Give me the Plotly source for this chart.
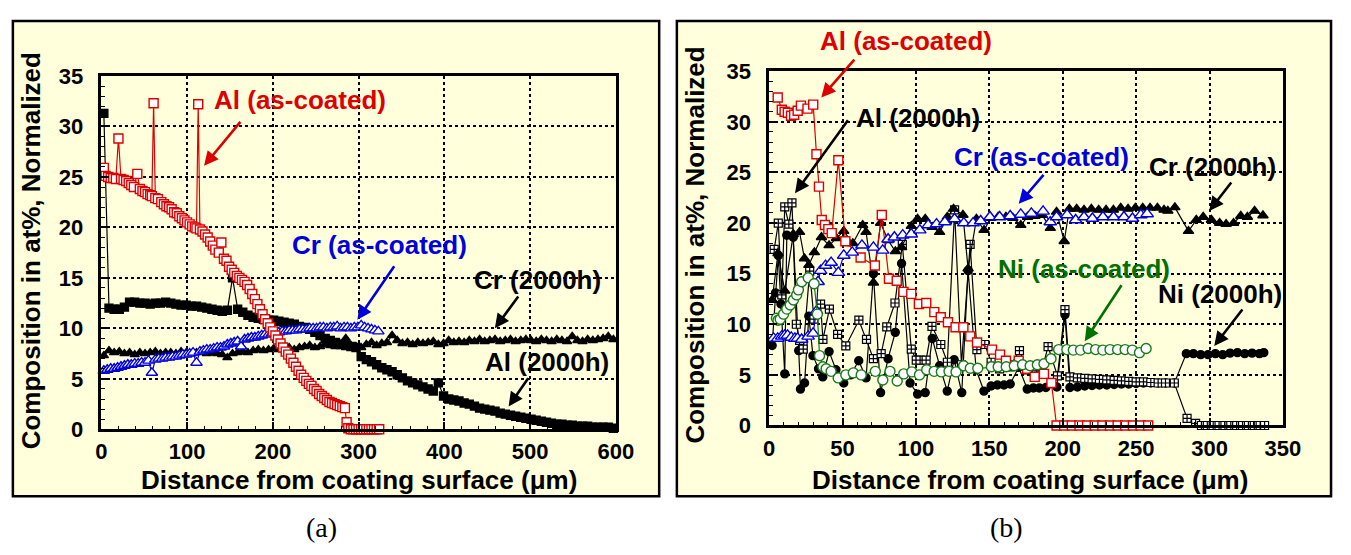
import plotly.graph_objects as go

# ---------------- Panel (a) data ----------------
a_al_ac_x = [3, 5, 8, 11, 14, 17, 20, 23, 26, 29, 32, 35, 38, 42, 45, 48, 51, 54, 57, 59,
             61, 63, 66, 70, 73, 76, 79, 82, 85, 88, 91, 94, 97, 100, 103, 106, 109, 111, 113, 115,
             118, 121, 124, 127, 130, 133, 137, 140, 143, 146, 149, 152, 155, 158, 161, 164, 167, 170, 173, 176,
             179, 182, 185, 188, 191, 194, 197, 200, 203, 206, 209, 212, 215, 218, 221, 224, 227, 230, 233, 236,
             239, 242, 245, 248, 251, 254, 257, 260, 263, 266, 269, 272, 275, 278, 281, 284, 286, 288, 291, 294,
             297, 300, 303, 306, 309, 312, 315, 318, 321, 324]
a_al_ac_y = [25.9, 25.1, 25.0, 24.9, 24.9, 24.8, 28.8, 24.8, 24.7, 24.6, 24.4, 24.2, 24.0, 25.3, 23.8, 23.6, 23.5, 23.3, 23.2, 23.1,
             32.3, 22.9, 22.8, 22.5, 22.3, 22.1, 22.0, 21.8, 21.5, 21.4, 21.1, 20.9, 20.7, 20.5, 20.3, 20.1, 20.0, 19.9, 32.2, 19.8,
             19.6, 19.3, 19.0, 18.6, 18.2, 17.8, 17.5, 18.5, 16.9, 16.7, 16.1, 15.8, 15.5, 15.2, 15.0, 14.8, 14.6, 14.3, 13.9, 13.4,
             12.9, 12.4, 11.9, 11.4, 10.9, 10.5, 10.1, 9.7, 9.3, 8.9, 8.5, 8.1, 7.7, 7.4, 7.0, 6.6, 6.2, 5.8, 5.4, 5.1,
             4.8, 4.5, 4.3, 4.0, 3.8, 3.5, 3.3, 3.1, 2.9, 2.7, 2.6, 2.5, 2.4, 2.3, 2.2, 2.1, 0.7, 0.1, 0, 0,
             0, 0, 0, 0, 0, 0, 0, 0, 0, 0]

a_cr_ac_x = [3, 7, 11, 15, 19, 23, 27, 31, 35, 39, 43, 47, 51, 55, 59, 63, 67, 71, 75, 79,
             83, 87, 91, 95, 99, 103, 107, 111, 115, 119, 123, 127, 131, 135, 139, 143, 147, 151, 155, 159,
             163, 167, 171, 175, 179, 183, 187, 191, 195, 199, 203, 207, 211, 215, 219, 223, 227, 231, 235, 239,
             243, 247, 251, 255, 259, 263, 267, 271, 275, 279, 283, 287, 291, 295, 299, 303, 307, 311, 315, 319, 323]
a_cr_ac_y = [5.8, 5.9, 6.0, 6.0, 6.1, 6.2, 6.3, 6.4, 6.4, 6.5, 6.5, 6.6, 6.6, 6.8, 5.6, 6.9, 7.0, 7.0, 7.1, 7.1,
             7.2, 7.2, 7.3, 7.4, 7.4, 7.5, 7.6, 6.6, 7.7, 7.8, 7.9, 7.9, 8.0, 8.1, 8.1, 8.2, 8.4, 8.5, 8.6, 8.7,
             8.2, 8.9, 9.0, 9.1, 9.1, 9.2, 9.3, 9.4, 9.4, 9.5, 9.6, 9.6, 9.7, 9.7, 9.8, 9.8, 9.8, 9.9, 9.9, 9.9,
             10.0, 10.0, 10.0, 10.1, 10.1, 10.0, 10.1, 10.1, 10.2, 10.0, 10.1, 10.1, 10.0, 10.1, 10.1, 10.3, 10.1, 10.0, 9.9, 9.8, 9.7]

a_2k_x = [3, 9, 15, 21, 27, 33, 39, 45, 51, 57, 63, 69, 75, 81, 87, 93, 99, 105, 111, 117,
          123, 129, 135, 141, 147, 153, 159, 165, 171, 177, 183, 189, 195, 201, 207, 213, 219, 225, 231, 237,
          243, 249, 255, 261, 267, 273, 279, 285, 291, 297, 303, 309, 315, 321, 327, 333, 339, 345, 351, 357,
          363, 369, 375, 381, 387, 393, 399, 405, 411, 417, 423, 429, 435, 441, 447, 453, 459, 465, 471, 477,
          483, 489, 495, 501, 507, 513, 519, 525, 531, 537, 543, 549, 555, 561, 567, 573, 579, 585, 591, 597]
a_al_2k_y = [31.3, 12.0, 11.9, 11.9, 12.1, 12.6, 12.6, 12.5, 12.5, 12.4, 12.5, 12.5, 12.6, 12.5, 12.4, 12.3, 12.3, 12.2, 12.2, 12.1,
             12.0, 11.9, 11.8, 11.7, 11.8, 15.0, 11.9, 11.6, 11.3, 11.1, 11.0, 10.9, 10.8, 10.8, 10.7, 10.6, 10.5, 10.4, 10.2, 10.1,
             9.9, 9.6, 9.3, 9.0, 8.8, 8.6, 8.4, 8.3, 8.2, 8.1, 7.2, 6.9, 6.7, 6.4, 6.1, 5.9, 5.7, 5.4, 5.1, 4.8,
             4.6, 4.4, 4.2, 4.0, 3.8, 4.6, 3.3, 3.0, 2.9, 2.8, 2.6, 2.5, 2.3, 2.1, 2.0, 1.9, 1.8, 1.6, 1.5, 1.4,
             1.3, 1.2, 1.1, 1.0, 0.9, 0.8, 0.7, 0.6, 0.5, 0.5, 0.4, 0.4, 0.3, 0.3, 0.3, 0.2, 0.2, 0.2, 0.2, 0.1]
a_cr_2k_y = [7.3, 7.8, 7.6, 7.7, 7.5, 7.6, 7.4, 7.6, 7.5, 7.6, 7.7, 7.5, 7.6, 7.6, 7.5, 7.7, 7.6, 7.5, 7.6, 7.7,
             7.5, 7.6, 7.5, 7.4, 7.1, 7.5, 7.6, 7.7, 7.6, 7.8, 7.9, 7.8, 7.9, 8.0, 7.9, 8.0, 8.1, 7.9, 8.1, 8.2,
             8.3, 8.1, 8.2, 8.4, 8.3, 8.2, 8.4, 9.0, 8.3, 8.2, 8.1, 8.4, 8.6, 8.3, 8.5, 8.6, 9.3, 8.8, 8.5, 8.6,
             8.4, 8.6, 8.5, 8.6, 8.7, 8.4, 8.5, 8.8, 8.6, 8.7, 8.6, 8.8, 8.7, 8.9, 8.7, 8.8, 8.9, 8.7, 8.8, 8.9,
             8.7, 8.8, 8.9, 8.8, 8.7, 8.9, 8.8, 8.7, 8.9, 8.8, 8.7, 9.2, 8.8, 8.7, 8.9, 8.8, 8.9, 9.0, 9.2, 8.9]

# ---------------- Panel (b) data ----------------
b_al_ac_x = [5.8, 8.6, 10.5, 12.7, 14.9, 17.0, 19.4, 21.6, 26.1, 30.0, 32.2, 33.9, 35.8, 38.0, 40.3, 42.6, 47.1, 51.9,
             62.3, 72.0, 76.7, 81.6, 86.9, 91.5, 96.8, 102.0, 107.0, 112.5, 116.9, 121.8, 127.0, 132.3, 137.0, 141.6,
             151.8, 157.3, 161.3, 170.0, 175.7, 180.9, 187.2, 192.3, 195.8, 201.0, 206.2, 211.4, 216.6, 221.8, 227.0,
             232.2, 237.4, 242.6, 247.8, 253.0, 258.2]
b_al_ac_y = [32.4, 31.2, 31.0, 30.9, 30.6, 30.7, 31.1, 31.6, 31.3, 31.7, 26.8, 23.6, 20.3, 19.8, 19.4, 19.0, 26.2, 18.2,
             16.6, 15.8, 20.8, 14.5, 14.3, 13.2, 13.0, 12.0, 12.1, 11.2, 10.7, 10.2, 9.7, 9.7, 8.8, 8.2,
             7.5, 7.0, 6.4, 6.4, 5.6, 4.8, 5.1, 4.2, 0, 0, 0, 0, 0, 0, 0, 0, 0, 0, 0, 0, 0]

b_cr_ac_x = [3.0, 5.8, 8.5, 10.5, 12.5, 15.0, 17.5, 19.3, 22.1, 26.5, 29.9, 32.2, 33.3, 35.0, 38.4, 42.2, 47.1, 50.8,
             56.6, 63.2, 71.0, 77.3, 81.0, 85.3, 91.0, 96.8, 102.6, 108.3, 114.0, 119.7, 126.3, 132.6, 138.9, 144.1,
             150.4, 157.0, 164.2, 171.4, 178.6, 186.6, 191.5, 195.8, 203.0, 208.8, 214.5, 220.2, 227.4, 234.6, 241.7,
             247.5, 253.2, 257.5]
b_cr_ac_y = [8.6, 8.6, 8.8, 8.9, 8.9, 8.7, 8.6, 8.6, 8.5, 8.8, 9.1, 11.3, 14.2, 15.3, 15.8, 16.1, 15.1, 16.8,
             17.1, 17.8, 17.6, 17.3, 18.4, 18.6, 18.8, 18.9, 19.3, 19.8, 19.9, 20.1, 20.4, 20.0, 20.0, 20.2,
             20.6, 20.6, 20.7, 20.85, 20.95, 21.15, 20.1, 20.6, 20.8, 20.3, 20.6, 20.45, 20.6, 20.6, 20.6,
             20.45, 20.8, 20.9]

b_ni_ac_x = [4.9, 6.0, 7.5, 9.8, 12.0, 14.3, 16.5, 18.7, 19.9, 22.1, 26.6, 30.6, 32.8, 34.3, 36.6, 38.8, 42.2, 47.0,
             52.2, 57.3, 62.7, 72.3, 77.4, 82.3, 87.2, 91.7, 97.2, 102.4, 107.3, 112.4, 117.3, 122.5, 127.3, 132.5,
             137.0, 142.1, 151.4, 156.0, 161.5, 167.0, 172.6, 177.8, 182.7, 187.2, 192.0, 197.2, 202.8, 207.2, 212.1,
             217.3, 222.4, 227.3, 232.2, 237.4, 242.5, 247.4, 252.3, 256.8]
b_ni_ac_y = [10.6, 10.4, 10.5, 11.0, 11.5, 11.9, 12.4, 12.9, 13.4, 14.2, 14.6, 14.0, 11.0, 6.9, 5.8, 5.6, 5.35, 4.7,
             5.0, 5.2, 5.0, 5.35, 4.5, 5.35, 4.4, 5.1, 5.3, 5.0, 5.5, 5.35, 5.3, 5.35, 5.3, 5.9,
             5.65, 5.65, 5.8, 5.8, 5.8, 5.9, 6.0, 5.9, 6.0, 6.1, 6.6, 7.5, 7.5, 7.45, 7.45,
             7.6, 7.5, 7.45, 7.5, 7.5, 7.5, 7.45, 7.2, 7.6]

b_cr_2k_x = [2.0, 6.0, 10.6, 16.4, 20.7, 24.0, 27.0, 30.8, 35.6, 40.8, 45.8, 50.8, 57.0, 63.7, 66.0, 71.0, 75.9, 81.0,
             86.0, 90.2, 96.8, 101.1, 106.3, 111.0, 116.1, 121.4, 125.6, 132.0, 135.5, 141.2, 146.4, 151.0, 156.0,
             161.3, 166.0, 171.4, 176.0, 181.0, 186.0, 191.5, 195.8, 201.0, 204.5, 209.5, 214.5, 219.5, 224.5, 229.5,
             234.5, 239.5, 244.5, 249.5, 254.5, 259.5, 264.5, 269.0, 271.6, 276.4, 285.7, 291.0, 295.7, 301.3, 306.9,
             311.3, 316.4, 321.3, 325.8, 330.7, 336.4]
b_cr_2k_y = [12.4, 17.0, 13.3, 18.9, 19.1, 16.5, 15.85, 17.1, 18.6, 17.8, 18.5, 19.2, 18.0, 19.8, 19.1, 14.1, 20.0, 18.3,
             17.2, 17.6, 19.7, 20.4, 20.4, 19.6, 19.1, 20.6, 21.4, 20.8, 15.5, 20.4, 19.3, 20.5, 20.6,
             20.6, 20.5, 19.8, 20.6, 20.7, 20.8, 19.5, 21.1, 18.2, 21.4, 21.4, 21.3, 21.4, 21.3, 21.3,
             21.3, 21.5, 21.4, 21.5, 21.5, 21.5, 21.5, 21.3, 21.2, 21.55, 19.2, 20.3, 20.6, 20.3, 20.0,
             19.9, 20.0, 20.7, 20.6, 21.2, 20.75]

b_al_2k_x = [3.4, 6.2, 8.6, 10.6, 13.4, 15.5, 18.5, 20.7, 23.2, 27.6, 30.5, 35.0, 36.6, 41.0, 46.6, 52.2, 61.1, 66.3,
             71.0, 76.3, 80.1, 85.7, 90.7, 96.8, 100.2, 102.8, 106.9, 110.9, 116.9, 121.4, 126.3, 131.0, 136.9, 141.5,
             146.9, 151.2, 157.0, 164.0, 170.5, 176.0, 182.0, 186.0, 190.0, 196.4, 201.5, 204.9, 210.0, 215.0, 220.0,
             225.0, 230.0, 235.0, 240.0, 245.0, 250.0, 255.0, 260.0, 265.0, 270.0, 276.0, 284.7, 290.5, 294.5, 298.5,
             302.5, 306.5, 310.5, 314.5, 318.5, 322.5, 326.5, 330.5, 334.5, 337.5]
b_al_2k_y = [17.4, 20.0, 12.9, 21.6, 19.9, 22.0, 10.0, 8.4, 7.55, 15.25, 10.5, 12.0, 8.5, 11.5, 9.0, 7.86, 10.4, 8.5,
             6.6, 7.1, 9.75, 12.1, 17.9, 7.55, 6.45, 6.45, 6.45, 9.8, 8.0, 6.25, 21.3, 6.0, 17.9, 7.5,
             8.0, 6.25, 5.6, 5.8, 7.4, 5.5, 5.4, 5.6, 7.8, 4.9, 11.45, 4.8, 4.7, 4.65, 4.6,
             4.55, 4.5, 4.45, 4.4, 4.35, 4.3, 4.3, 4.25, 4.2, 4.2, 4.2, 0.7, 0.2, 0, 0,
             0, 0, 0, 0, 0, 0, 0, 0, 0, 0]

b_ni_2k_x = [2.0, 4.3, 6.2, 8.0, 10.6, 12.0, 16.4, 20.1, 21.3, 24.1, 27.0, 29.8, 33.6, 36.5, 40.8, 45.5, 50.8, 55.5,
             61.0, 66.0, 71.0, 75.9, 81.0, 85.9, 90.2, 96.0, 101.1, 106.3, 111.1, 116.1, 121.3, 126.0, 131.2, 135.5,
             141.0, 146.3, 151.2, 155.5, 160.0, 164.2, 170.0, 175.8, 180.0, 184.0, 188.5, 192.5, 196.0, 201.5, 204.9,
             210.0, 215.0, 220.0, 225.0, 230.0, 235.0, 240.0, 245.0, 250.0, 255.0, 260.0, 265.0, 270.0, 276.0,
             284.2, 289.0, 294.0, 299.0, 304.0, 309.0, 314.0, 319.0, 324.0, 329.0, 334.0, 337.0]
b_ni_2k_y = [7.9, 13.1, 16.8, 12.0, 5.1, 18.8, 18.6, 7.4, 3.6, 4.2, 10.8, 6.9, 5.6, 4.8, 7.3, 5.5, 4.2, 5.0,
             6.4, 4.7, 15.0, 3.25, 6.6, 9.2, 16.0, 4.2, 3.1, 3.25, 8.6, 5.9, 3.4, 6.5, 3.25, 15.3,
             5.5, 3.4, 3.9, 4.0, 4.0, 4.1, 5.75, 3.6, 3.7, 3.7, 3.75, 4.2, 3.8, 10.95, 3.75,
             3.8, 3.9, 3.95, 4.0, 4.0, 4.05, 4.1, 4.1, 4.15, 4.2, 4.2, 4.2, 4.2, 4.2,
             7.1, 7.1, 7.0, 7.0, 7.1, 7.0, 7.15, 7.2, 7.1, 7.15, 7.1, 7.2]

x_tick_a = [0, 100, 200, 300, 400, 500, 600]
x_tick_b = [0, 50, 100, 150, 200, 250, 300, 350]
y_ticks = [0, 5, 10, 15, 20, 25, 30, 35]

# ---------------- styling ----------------
W, H = 1351, 555
RED = "#DD0000"
BLUE = "#0000DD"
GREEN = "#1A7A1A"
GREEN_T = "#007000"
BLACK = "#000000"
BG = "#FFFFDC"
SANS = "Liberation Sans, Arial, sans-serif"
SERIF = "Liberation Serif, Times New Roman, serif"


def px(x):
    return x / W


def py(y):
    return 1 - y / H


fig = go.Figure()


def add(x, y, xa, ya, symbol, size, mcolor, lcolor, lw=1.2, mlw=1.4):
    fig.add_trace(go.Scatter(
        x=x, y=y, xaxis=xa, yaxis=ya, mode="lines+markers",
        line=dict(color=lcolor, width=lw),
        marker=dict(symbol=symbol, size=size, color=mcolor,
                    line=dict(color=lcolor, width=mlw)),
        cliponaxis=False, showlegend=False, hoverinfo="skip"))


# Panel (a)
add(a_2k_x, a_cr_2k_y, "x", "y", "triangle-up", 8, BLACK, BLACK)
add(a_2k_x, a_al_2k_y, "x", "y", "square", 8, BLACK, BLACK)
add(a_cr_ac_x, a_cr_ac_y, "x", "y", "triangle-up", 10, "white", BLUE)
add(a_al_ac_x, a_al_ac_y, "x", "y", "square", 9, "white", RED)

# Panel (b)
add(b_ni_2k_x, b_ni_2k_y, "x2", "y2", "circle", 8, BLACK, BLACK)
add(b_al_2k_x, b_al_2k_y, "x2", "y2", "square-cross", 8, "white", BLACK, mlw=1.2)
add(b_cr_2k_x, b_cr_2k_y, "x2", "y2", "triangle-up", 9, BLACK, BLACK)
add(b_al_ac_x, b_al_ac_y, "x2", "y2", "square", 9, "white", RED)
add(b_cr_ac_x, b_cr_ac_y, "x2", "y2", "triangle-up", 11, "white", BLUE)
add(b_ni_ac_x, b_ni_ac_y, "x2", "y2", "circle", 10, "white", GREEN)

tickfont = dict(family=SANS, size=22, color=BLACK, weight="bold")


def axis_common(dom, rng, ticks, minor_dtick, anchor, standoff):
    return dict(domain=dom, range=rng, tickmode="array", tickvals=ticks,
                ticks="inside", ticklen=8, tickwidth=1.5, tickcolor=BLACK,
                minor=dict(dtick=minor_dtick, ticks="inside", ticklen=4,
                           tickwidth=1, tickcolor=BLACK, showgrid=False),
                showgrid=True, gridcolor=BLACK, gridwidth=2, griddash="dot",
                showline=True, linecolor=BLACK, linewidth=2.5, mirror=True,
                zeroline=False, tickfont=tickfont, anchor=anchor, fixedrange=True,
                ticklabelstandoff=standoff)


fig.update_layout(
    width=W, height=H, autosize=False,
    margin=dict(l=0, r=0, t=0, b=0),
    paper_bgcolor="white", plot_bgcolor=BG,
    xaxis=axis_common([px(97), px(621)], [0, 600], x_tick_a, 20, "y", 1),
    yaxis=axis_common([py(437), py(67)], [0, 35], y_ticks, 1, "x", 11),
    xaxis2=axis_common([px(777), px(1300)], [0, 350], x_tick_b, 10, "y2", 1),
    yaxis2=axis_common([py(433), py(62)], [0, 35], y_ticks, 1, "x2", 11),
)

# Panel frames
for x0, x1 in [(7, 665), (683, 1349)]:
    fig.add_shape(type="rect", xref="paper", yref="paper",
                  x0=px(x0), x1=px(x1), y0=py(507), y1=py(9.5),
                  fillcolor=BG, line=dict(color=BLACK, width=2.5), layer="below")

annots = []


def label(text, cx, cy, color, size=26, angle=0, family=SANS, weight="bold"):
    annots.append(dict(text=text, x=px(cx), y=py(cy), xref="paper", yref="paper",
                       xanchor="center", yanchor="middle", showarrow=False,
                       textangle=angle,
                       font=dict(family=family, size=size, color=color, weight=weight)))


def arrow(hx, hy, tx, ty, color, xa="x", ya="y"):
    annots.append(dict(text="", x=hx, y=hy, ax=tx, ay=ty, xref=xa, yref=ya,
                       axref=xa, ayref=ya, showarrow=True, arrowhead=2,
                       arrowsize=1.1, arrowwidth=2.6, arrowcolor=color,
                       standoff=0, startstandoff=0))


# axis titles
label("Distance from coating surface (\u03bcm)", 359, 490, BLACK, size=26)
label("Distance from coating surface (\u03bcm)", 1043, 490, BLACK, size=26)
label("Composition in at%, Normalized", 25, 250, BLACK, size=26, angle=-90)
label("Composition in at%, Normalized", 701, 244, BLACK, size=26, angle=-90)

# captions
label("(a)", 321, 540, BLACK, size=28, family=SERIF, weight="normal")
label("(b)", 1019, 540, BLACK, size=28, family=SERIF, weight="normal")

# panel (a) labels
label("Al (as-coated)", 299, 92, RED)
arrow(119.8, 26.1, 163.6, 30.6, RED)
label("Cr (as-coated)", 380, 244, BLUE)
arrow(298.6, 10.85, 342.7, 16.3, BLUE)
label("Cr (2000h)", 541, 281, BLACK)
arrow(458.8, 10.0, 487.4, 13.3, BLACK)
label("Al (2000h)", 551, 367, BLACK)
arrow(474.8, 2.26, 498.9, 5.2, BLACK)

# panel (b) labels
label("Al (as-coated)", 916, 30, RED)
arrow(35.5, 32.4, 58.9, 36.3, RED, "x2", "y2")
label("Al (2000h)", 929, 111, BLACK)
arrow(17.6, 22.95, 54.4, 30.3, BLACK, "x2", "y2")
label("Cr (as-coated)", 1054, 152, BLUE)
arrow(170.0, 21.9, 187.8, 24.9, BLUE, "x2", "y2")
label("Cr (2000h)", 1228, 162, BLACK)
arrow(299.8, 21.2, 315.6, 24.15, BLACK, "x2", "y2")
label("Ni (as-coated)", 1097, 269, GREEN_T)
arrow(215.0, 8.33, 240.7, 14.0, GREEN_T, "x2", "y2")
label("Ni (2000h)", 1236, 295, BLACK)
arrow(303.2, 7.86, 323.2, 11.6, BLACK, "x2", "y2")

fig.update_layout(annotations=annots)

fig.write_html("out.html")
